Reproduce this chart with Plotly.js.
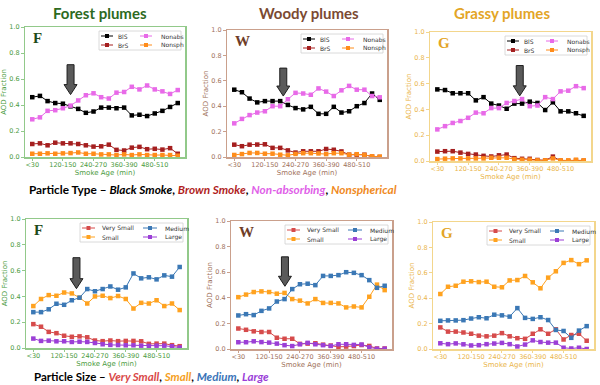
<!DOCTYPE html>
<html>
<head>
<meta charset="utf-8">
<script src="https://cdn.plot.ly/plotly-3.0.1.min.js"></script>
<style>
  html, body { margin: 0; padding: 0; background: #fff; }
  #chart { width: 600px; height: 385px; }
</style>
</head>
<body>
<div id="chart"></div>
<script>
// smoke age bins (x categories) and the ones that get a tick label
const ageBins = ['<30', '30-60', '60-90', '90-120', '120-150', '150-180', '180-210', '210-240',
  '240-270', '270-300', '300-330', '330-360', '360-390', '390-420', '420-450', '450-480',
  '480-510', '510-540', '540-570', '570-600'];
const tickBins = ['<30', '120-150', '240-270', '360-390', '480-510'];

const typeNames = ['BlS', 'BrS', 'Nonabs', 'Nonsph'];
const typeColors = ['#000000', '#a51f1f', '#e86ae8', '#ff8c1a'];
const sizeNames = ['Very Small', 'Small', 'Medium', 'Large'];
const sizeColors = ['#d64b4b', '#ffa21f', '#3b78b5', '#9b3fd6'];

// particle type fractions
const forestBlS = [0.46, 0.47, 0.43, 0.415, 0.41, 0.39, 0.37, 0.34, 0.35, 0.38, 0.38, 0.375, 0.38, 0.32, 0.325, 0.315, 0.335, 0.355, 0.385, 0.415];
const forestBrS = [0.10, 0.105, 0.09, 0.11, 0.105, 0.105, 0.10, 0.09, 0.08, 0.082, 0.095, 0.055, 0.05, 0.072, 0.078, 0.06, 0.063, 0.057, 0.068, 0.025];
const forestNonabs = [0.29, 0.305, 0.355, 0.36, 0.375, 0.395, 0.435, 0.475, 0.49, 0.46, 0.45, 0.495, 0.50, 0.54, 0.52, 0.55, 0.52, 0.505, 0.485, 0.515];
const forestNonsph = [0.025, 0.025, 0.028, 0.025, 0.028, 0.03, 0.035, 0.025, 0.025, 0.02, 0.02, 0.015, 0.02, 0.015, 0.02, 0.015, 0.015, 0.015, 0.015, 0.01];

const woodyBlS = [0.53, 0.51, 0.46, 0.43, 0.44, 0.44, 0.44, 0.41, 0.385, 0.375, 0.395, 0.34, 0.34, 0.395, 0.35, 0.36, 0.40, 0.425, 0.50, 0.45];
const woodyBrS = [0.097, 0.085, 0.097, 0.098, 0.10, 0.072, 0.072, 0.052, 0.035, 0.045, 0.045, 0.045, 0.063, 0.057, 0.044, 0.018, 0.018, 0.018, 0.003, 0.0];
const woodyNonabs = [0.265, 0.30, 0.33, 0.35, 0.36, 0.40, 0.40, 0.455, 0.505, 0.50, 0.49, 0.54, 0.515, 0.48, 0.525, 0.56, 0.53, 0.53, 0.48, 0.47];
const woodyNonsph = [0.016, 0.023, 0.032, 0.032, 0.026, 0.026, 0.018, 0.013, 0.024, 0.03, 0.03, 0.028, 0.023, 0.03, 0.03, 0.018, 0.022, 0.016, 0.005, 0.003];

const grassyBlS = [0.555, 0.55, 0.525, 0.525, 0.525, 0.47, 0.495, 0.445, 0.43, 0.405, 0.445, 0.445, 0.46, 0.45, 0.395, 0.455, 0.385, 0.385, 0.37, 0.35];
const grassyBrS = [0.073, 0.076, 0.076, 0.065, 0.055, 0.05, 0.04, 0.035, 0.044, 0.05, 0.022, 0.017, 0.017, 0.008, 0.005, 0.034, 0.003, 0.0, 0.004, 0.002];
const grassyNonabs = [0.245, 0.27, 0.295, 0.31, 0.335, 0.375, 0.37, 0.41, 0.41, 0.45, 0.465, 0.48, 0.425, 0.43, 0.495, 0.48, 0.54, 0.545, 0.58, 0.565];
const grassyNonsph = [0.015, 0.018, 0.02, 0.02, 0.02, 0.02, 0.02, 0.025, 0.025, 0.025, 0.015, 0.01, 0.01, 0.005, 0.005, 0.02, 0.005, 0.005, 0.01, 0.005];

// particle size fractions
const forestVS = [0.185, 0.165, 0.125, 0.115, 0.095, 0.087, 0.09, 0.083, 0.058, 0.053, 0.058, 0.053, 0.055, 0.055, 0.052, 0.032, 0.034, 0.034, 0.022, 0.014];
const forestSmall = [0.325, 0.38, 0.41, 0.405, 0.43, 0.423, 0.39, 0.345, 0.40, 0.405, 0.387, 0.403, 0.38, 0.306, 0.35, 0.345, 0.37, 0.325, 0.345, 0.294];
const forestMedium = [0.278, 0.278, 0.30, 0.343, 0.335, 0.37, 0.39, 0.457, 0.44, 0.457, 0.477, 0.452, 0.47, 0.578, 0.54, 0.548, 0.532, 0.563, 0.553, 0.628];
const forestLarge = [0.073, 0.055, 0.057, 0.052, 0.052, 0.047, 0.049, 0.047, 0.039, 0.029, 0.024, 0.023, 0.021, 0.021, 0.018, 0.016, 0.018, 0.018, 0.013, 0.004];

const woodyVS = [0.16, 0.15, 0.138, 0.133, 0.133, 0.088, 0.08, 0.08, 0.04, 0.042, 0.045, 0.034, 0.027, 0.017, 0.019, 0.023, 0.031, 0.024, 0.004, 0.004];
const woodySmall = [0.405, 0.425, 0.445, 0.45, 0.445, 0.432, 0.438, 0.39, 0.378, 0.356, 0.39, 0.36, 0.36, 0.356, 0.325, 0.332, 0.325, 0.408, 0.503, 0.46];
const woodyMedium = [0.262, 0.272, 0.265, 0.298, 0.317, 0.371, 0.39, 0.468, 0.506, 0.51, 0.499, 0.571, 0.571, 0.577, 0.60, 0.595, 0.577, 0.538, 0.478, 0.494];
const woodyLarge = [0.053, 0.053, 0.06, 0.054, 0.05, 0.042, 0.03, 0.023, 0.037, 0.048, 0.037, 0.03, 0.024, 0.037, 0.037, 0.032, 0.035, 0.013, 0.002, 0.002];

const grassyVS = [0.17, 0.137, 0.137, 0.13, 0.12, 0.105, 0.10, 0.105, 0.125, 0.10, 0.085, 0.08, 0.12, 0.155, 0.12, 0.155, 0.075, 0.11, 0.12, 0.065];
const grassySmall = [0.433, 0.49, 0.498, 0.53, 0.533, 0.527, 0.53, 0.49, 0.486, 0.54, 0.543, 0.575, 0.525, 0.478, 0.562, 0.612, 0.678, 0.70, 0.668, 0.698];
const grassyMedium = [0.222, 0.225, 0.225, 0.227, 0.24, 0.25, 0.242, 0.27, 0.265, 0.255, 0.322, 0.245, 0.237, 0.25, 0.228, 0.15, 0.142, 0.088, 0.145, 0.18];
const grassyLarge = [0.045, 0.038, 0.044, 0.037, 0.028, 0.03, 0.038, 0.043, 0.048, 0.038, 0.02, 0.035, 0.068, 0.055, 0.05, 0.05, 0.01, 0.004, 0.01, 0.0];

const W = 600, H = 385;
const XR = [-0.95, 19.95];
const px = v => v / W;
const py = v => 1 - v / H;

const themes = {
  forest: {title: '#2d6a1f', text: '#4b9b3e', frame: '#92c98a', letter: '#1f4a1a'},
  woody: {title: '#7b4a32', text: '#a0715a', frame: '#caa08c', letter: '#6e3d28'},
  grassy: {title: '#e3a526', text: '#eab54a', frame: '#f3d68c', letter: '#e3a526'}
};

// frame in pixels: [left, right, top, bottom]; arrow: [category index, top value, tip value]
const panels = [
  {box: [25, 185, 27, 157], theme: 'forest', letter: 'F', names: typeNames, colors: typeColors,
   ys: [forestBlS, forestBrS, forestNonabs, forestNonsph], arrow: [5.0, 0.71, 0.48]},
  {box: [227, 387, 30, 157], theme: 'woody', letter: 'W', names: typeNames, colors: typeColors,
   ys: [woodyBlS, woodyBrS, woodyNonabs, woodyNonsph], arrow: [6.4, 0.70, 0.48]},
  {box: [430, 591, 32, 161], theme: 'grassy', letter: 'G', names: typeNames, colors: typeColors,
   ys: [grassyBlS, grassyBrS, grassyNonabs, grassyNonsph], arrow: [10.7, 0.74, 0.505]},
  {box: [26, 187, 219, 348], theme: 'forest', letter: 'F', names: sizeNames, colors: sizeColors,
   ys: [forestVS, forestSmall, forestMedium, forestLarge], arrow: [5.6, 0.70, 0.46]},
  {box: [231, 392, 221, 349], theme: 'woody', letter: 'W', names: sizeNames, colors: sizeColors,
   ys: [woodyVS, woodySmall, woodyMedium, woodyLarge], arrow: [6.05, 0.72, 0.49]},
  {box: [433, 594, 222, 349], theme: 'grassy', letter: 'G', names: sizeNames, colors: sizeColors,
   ys: [grassyVS, grassySmall, grassyMedium, grassyLarge], arrow: null}
];

const typeLegend = {w: 82, cols: [{l0: 2, l1: 14, m: 8, t: 17}, {l0: 41, l1: 53, m: 47, t: 60}]};
const sizeLegend = {w: 103, cols: [{l0: 2, l1: 15, m: 8.5, t: 20}, {l0: 63, l1: 77, m: 70, t: 83}]};

const traces = [];
const shapes = [];
const annotations = [];
const layout = {
  width: W, height: H,
  margin: {l: 0, r: 0, t: 0, b: 0},
  paper_bgcolor: '#ffffff',
  plot_bgcolor: '#ffffff',
  showlegend: false,
  font: {family: 'DejaVu Sans', size: 7}
};

panels.forEach((p, k) => {
  const n = k === 0 ? '' : String(k + 1);
  const [l, r, t, b] = p.box;
  const th = themes[p.theme];

  layout['xaxis' + n] = {
    domain: [px(l), px(r)], anchor: 'y' + n,
    type: 'category', categoryorder: 'array', categoryarray: ageBins,
    range: XR, tickmode: 'array', tickvals: tickBins, ticktext: tickBins, tickangle: 0,
    ticks: 'outside', ticklen: 2.5, tickwidth: 1, tickcolor: th.frame, ticklabelstandoff: -2,
    showline: true, linecolor: th.frame, linewidth: 1.5, mirror: true,
    showgrid: false, zeroline: false,
    tickfont: {family: 'DejaVu Sans', size: 6.5, color: th.text},
    title: {text: 'Smoke Age (min)', font: {family: 'DejaVu Sans', size: 7, color: th.text}, standoff: 0}
  };
  layout['yaxis' + n] = {
    domain: [py(b), py(t)], anchor: 'x' + n,
    range: [0, 1], dtick: 0.2, tickformat: '.1f',
    ticks: 'outside', ticklen: 2.5, tickwidth: 1, tickcolor: th.frame,
    showline: true, linecolor: th.frame, linewidth: 1.5, mirror: true,
    showgrid: false, zeroline: false,
    tickfont: {family: 'DejaVu Sans', size: 6.5, color: th.text},
    title: {text: 'AOD Fraction', font: {family: 'DejaVu Sans', size: 7, color: th.text}, standoff: 2}
  };

  p.ys.forEach((ys, j) => {
    traces.push({
      type: 'scatter', mode: 'lines+markers', name: p.names[j],
      x: ageBins, y: ys, xaxis: 'x' + n, yaxis: 'y' + n,
      line: {color: p.colors[j], width: 1},
      marker: {symbol: 'square', size: 4.5, color: p.colors[j]},
      showlegend: false, hoverinfo: 'skip'
    });
  });

  // panel letter
  annotations.push({
    xref: 'paper', yref: 'paper', x: px(l + 6), y: py(t + 11), xanchor: 'left', yanchor: 'middle',
    text: '<b>' + p.letter + '</b>', showarrow: false,
    font: {family: 'Liberation Serif', size: 15, color: th.letter}
  });

  // hand-made legend box, two columns
  const lg = p.names === typeNames ? typeLegend : sizeLegend;
  const bx0 = r - 4 - lg.w, bx1 = r - 4, by0 = t + 4, by1 = t + 23;
  shapes.push({type: 'rect', xref: 'paper', yref: 'paper', layer: 'above',
    x0: px(bx0), x1: px(bx1), y0: py(by0), y1: py(by1),
    fillcolor: 'rgba(255,255,255,0.85)', line: {color: '#d0d0d0', width: 0.8}});
  p.names.forEach((name, j) => {
    const c = lg.cols[j < 2 ? 0 : 1];
    const yy = by0 + (j % 2 === 0 ? 5 : 14);
    shapes.push({type: 'line', xref: 'paper', yref: 'paper', layer: 'above',
      x0: px(bx0 + c.l0), x1: px(bx0 + c.l1), y0: py(yy), y1: py(yy),
      line: {color: p.colors[j], width: 1}});
    shapes.push({type: 'rect', xref: 'paper', yref: 'paper', layer: 'above',
      x0: px(bx0 + c.m - 2), x1: px(bx0 + c.m + 2), y0: py(yy - 2), y1: py(yy + 2),
      fillcolor: p.colors[j], line: {width: 0}});
    annotations.push({xref: 'paper', yref: 'paper', x: px(bx0 + c.t), y: py(yy),
      xanchor: 'left', yanchor: 'middle', showarrow: false, text: name,
      font: {family: 'DejaVu Sans', size: 6, color: '#333333'}});
  });

  // grey arrow pointing at the crossover
  if (p.arrow) {
    const [idx, vTop, vTip] = p.arrow;
    const cx = l + (idx - XR[0]) / (XR[1] - XR[0]) * (r - l);
    const yTop = b - vTop * (b - t), yTip = b - vTip * (b - t);
    const pts = [[cx, yTip], [cx - 6.5, yTip - 10], [cx - 3.5, yTip - 10], [cx - 3.5, yTop],
      [cx + 3.5, yTop], [cx + 3.5, yTip - 10], [cx + 6.5, yTip - 10]];
    const path = 'M' + pts.map(q => px(q[0]).toFixed(5) + ',' + py(q[1]).toFixed(5)).join(' L') + ' Z';
    shapes.push({type: 'path', xref: 'paper', yref: 'paper', layer: 'above', path: path,
      fillcolor: '#5a5a5a', line: {color: '#1e1e1e', width: 1}});
  }
});

// panel titles
const titleFont = c => ({family: 'Lato', size: 15, color: c});
annotations.push(
  {xref: 'paper', yref: 'paper', x: px(100), y: py(13), xanchor: 'center', yanchor: 'middle', showarrow: false,
   text: '<b>Forest plumes</b>', font: titleFont(themes.forest.title)},
  {xref: 'paper', yref: 'paper', x: px(309), y: py(13), xanchor: 'center', yanchor: 'middle', showarrow: false,
   text: '<b>Woody plumes</b>', font: titleFont(themes.woody.title)},
  {xref: 'paper', yref: 'paper', x: px(502), y: py(13), xanchor: 'center', yanchor: 'middle', showarrow: false,
   text: '<b>Grassy plumes</b>', font: titleFont(themes.grassy.title)}
);

// captions under each row
annotations.push(
  {xref: 'paper', yref: 'paper', x: px(27), y: py(190), xanchor: 'left', yanchor: 'middle', showarrow: false,
   font: {family: 'Lato', size: 11.8, color: '#000000'},
   text: '<b>Particle Type – <i>Black Smoke</i>, <i><span style="color:#b01e1e">Brown Smoke</span></i>, ' +
     '<i><span style="color:#e060e8">Non-absorbing</span></i>, <i><span style="color:#f08a1e">Nonspherical</span></i></b>'},
  {xref: 'paper', yref: 'paper', x: px(32), y: py(376), xanchor: 'left', yanchor: 'middle', showarrow: false,
   font: {family: 'Lato', size: 11.5, color: '#000000'},
   text: '<b>Particle Size – <i><span style="color:#d94848">Very Small</span></i>, <i><span style="color:#f5a01e">Small</span></i>, ' +
     '<i><span style="color:#3a74b8">Medium</span></i>, <i><span style="color:#9a3ed8">Large</span></i></b>'}
);

layout.shapes = shapes;
layout.annotations = annotations;

Plotly.newPlot('chart', traces, layout, {displayModeBar: false, staticPlot: true});
</script>
</body>
</html>
